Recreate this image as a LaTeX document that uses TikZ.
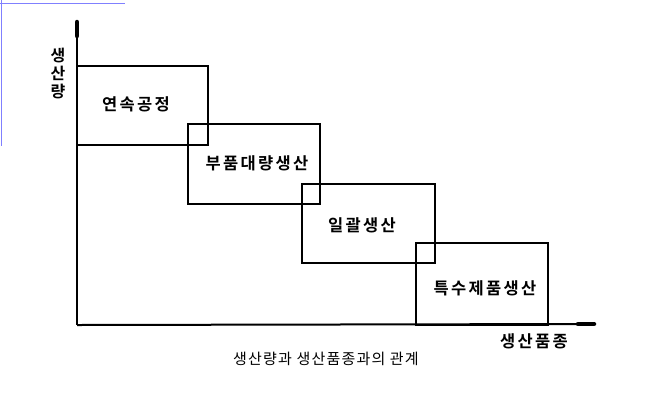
\documentclass[tikz,border=0pt]{standalone}
\usepackage{fontspec}
\newfontfamily\kr[LetterSpace=8]{Noto Sans CJK KR}
\newfontfamily\krb[LetterSpace=14]{Noto Sans CJK KR Bold}
\newfontfamily\krbv{Noto Sans CJK KR Bold}
\tikzset{
  stagebox/.style={draw=black, line width=2pt, fill=none},
  stagelabel/.style={font=\krb\fontsize{16.5}{18}\selectfont, inner sep=0pt},
  axisline/.style={line width=2pt},
  axisend/.style={line width=4.5pt, line cap=round},
}
\begin{document}
\begin{tikzpicture}[x=1pt,y=-1pt]
\useasboundingbox (0,0) rectangle (647,400);
\fill[white] (0,0) rectangle (647,400);
% stray blue frame lines
\draw[blue!50, line width=0.8pt] (0,3) -- (125,3);
\draw[blue!50, line width=0.8pt] (1,0) -- (1,146);
% origin and axis ends
\coordinate (O) at (77,325);
\coordinate (ytop) at (77,22);
\coordinate (yblob) at (77,36);
\coordinate (xend) at (594,324);
\coordinate (xblob) at (578,324);
\draw[axisline] (O) -- (ytop);
\draw[axisline] (O) -- (xend);
\draw[axisend] (yblob) -- (ytop);
\draw[axisend] (xblob) -- (xend);
% boxes
\draw[stagebox] (77,66) rectangle (208,145);
\draw[stagebox] (188,124) rectangle (320,204);
\draw[stagebox] (302,184) rectangle (435,263);
\draw[stagebox] (416,243) rectangle (548,325);
% labels
\node[stagelabel] (l1) at (136,104) {연속공정};
\node[stagelabel] (l2) at (257,163) {부품대량생산};
\node[stagelabel] (l3) at (362,225) {일괄생산};
\node[stagelabel] (l4) at (485,288) {특수제품생산};
\node[font=\krbv\fontsize{16}{18}\selectfont, inner sep=0pt, align=center] (yl) at (58,74) {생\\산\\량};
\node[stagelabel] (xl) at (534,341) {생산품종};
\node[font=\kr\fontsize{15}{16}\selectfont, inner sep=0pt] (cap) at (326,359) {생산량과 생산품종과의 관계};
\end{tikzpicture}
\end{document}
